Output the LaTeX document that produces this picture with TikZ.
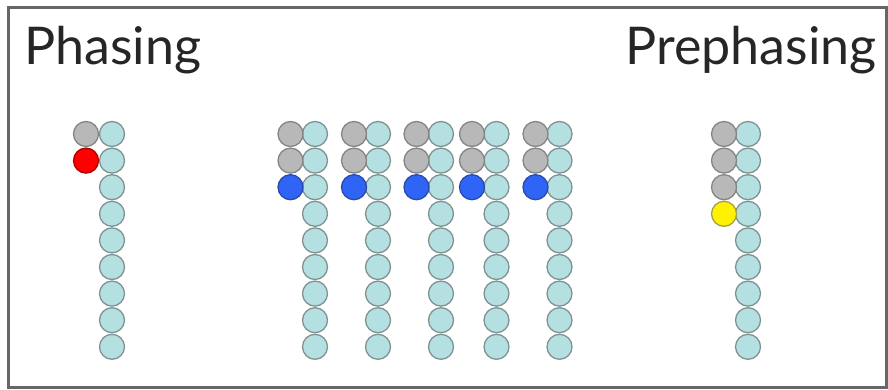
\documentclass[tikz,border=0pt]{standalone}
\usepackage{fontspec}
\setmainfont{Lato}
\definecolor{strandc}{HTML}{B5E0E2}
\definecolor{rimc}{HTML}{7F9292}
\definecolor{grayc}{HTML}{B8B8B8}
\definecolor{rimg}{HTML}{858585}
\definecolor{bluec}{HTML}{2F64F7}
\definecolor{rimb}{HTML}{2A49A8}
\definecolor{framec}{HTML}{666666}
\tikzset{
  bead/.style={circle, minimum size=25pt, inner sep=0pt, line width=1.3pt},
  tmpl/.style={bead, fill=strandc, draw=rimc},
  done/.style={bead, fill=grayc, draw=rimg},
  bluebead/.style={bead, fill=bluec, draw=rimb},
  redbead/.style={bead, fill=red, draw=red!70!black},
  yellowbead/.style={bead, fill=yellow, draw=yellow!60!black},
  title/.style={font=\fontsize{52}{56}\selectfont, text=black!85, inner sep=0pt, anchor=base west}
}
\begin{document}
\begin{tikzpicture}[x=1pt,y=-1pt]
\useasboundingbox (0,0) rectangle (888,390);
\draw[framec, line width=3pt] (8.5,7.5) rectangle (886.5,387);
\node[title] (t1) at (24,65) {Phasing};
\node[title, anchor=base east] (t2) at (877,65) {Prephasing};
% template strands
\foreach \s/\x in {a/112,b/315,c/378,d/441,e/496.5,f/559.5,g/748}{
  \foreach \i in {1,...,9}{
    \node[tmpl] (\s\i) at (\x,{134+26.6*(\i-1)}) {};
  }
}
% phasing strand
\node[done] (pa1) at (86,134) {};
\node[redbead] (pa2) at (86,160.6) {};
% middle strands
\foreach \s/\x in {b/290.5,c/354,d/416.5,e/472,f/535.5}{
  \node[done] (p\s1) at (\x,134) {};
  \node[done] (p\s2) at (\x,160.6) {};
  \node[bluebead] (p\s3) at (\x,187.2) {};
}
% prephasing strand
\node[done] (pg1) at (724,134) {};
\node[done] (pg2) at (724,160.6) {};
\node[done] (pg3) at (724,187.2) {};
\node[yellowbead] (pg4) at (724,213.8) {};
\end{tikzpicture}
\end{document}
